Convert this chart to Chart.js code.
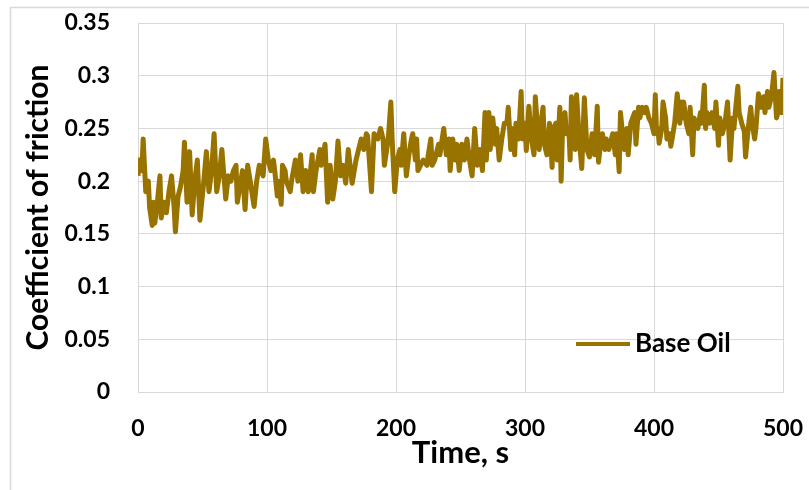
<!DOCTYPE html>
<html>
<head>
<meta charset="utf-8">
<script src="https://cdn.jsdelivr.net/npm/chart.js@4"></script>
<style>
  body { margin: 0; background: #fff; }
</style>
</head>
<body>
<canvas id="cofChart" width="809" height="490"></canvas>
<script>
// time (s) and coefficient of friction
var times = [0, 1, 3, 4, 6, 8, 9, 11, 12, 13, 15, 17, 18, 20, 22, 24, 26, 28, 29, 31,
	33, 35, 36, 38, 40, 42, 44, 46, 48, 51, 53, 55, 57, 59, 61, 63, 65, 68, 70, 72,
	74, 76, 77, 81, 83, 85, 87, 90, 92, 94, 97, 99, 101, 103, 105, 106, 108, 109, 111, 112,
	114, 115, 118, 119, 122, 124, 126, 128, 130, 132, 135, 136, 138, 141, 142, 145, 147, 149, 151, 153,
	155, 157, 159, 161, 163, 166, 169, 171, 173, 175, 177, 178, 181, 183, 186, 188, 190, 191, 194, 196,
	197, 199, 201, 203, 204, 206, 208, 210, 212, 213, 215, 216, 217, 219, 221, 224, 225, 227, 228, 230,
	233, 234, 237, 239, 241, 242, 244, 246, 247, 249, 251, 253, 255, 257, 259, 261, 263, 265, 267, 269,
	270, 272, 273, 275, 277, 278, 280, 282, 284, 286, 287, 289, 290, 292, 293, 295, 297, 298, 300, 301,
	303, 305, 307, 308, 310, 311, 313, 314, 315, 317, 319, 320, 321, 322, 324, 325, 327, 328, 329, 331,
	332, 334, 335, 336, 338, 339, 340, 342, 344, 346, 348, 350, 352, 354, 356, 357, 359, 360, 362, 363,
	365, 368, 370, 371, 373, 374, 376, 377, 379, 380, 382, 385, 386, 388, 389, 391, 393, 394, 396, 398,
	400, 401, 402, 403, 404, 406, 407, 409, 410, 412, 413, 414, 416, 418, 420, 421, 422, 423, 425, 427,
	428, 430, 431, 434, 436, 437, 439, 440, 441, 443, 445, 447, 448, 450, 451, 453, 455, 457, 459, 461,
	462, 463, 465, 466, 468, 470, 471, 473, 475, 476, 478, 479, 481, 483, 485, 486, 488, 489, 491, 493,
	495, 496, 497, 499, 500];

var baseOil = [0.205, 0.22, 0.21, 0.24, 0.19, 0.2, 0.175, 0.158, 0.18, 0.16, 0.18, 0.205, 0.165, 0.18, 0.17, 0.19, 0.205, 0.175, 0.152, 0.185,
	0.195, 0.21, 0.237, 0.18, 0.228, 0.168, 0.2, 0.22, 0.163, 0.2, 0.228, 0.19, 0.21, 0.245, 0.19, 0.205, 0.23, 0.183, 0.205, 0.2,
	0.21, 0.215, 0.18, 0.21, 0.173, 0.215, 0.2, 0.176, 0.2, 0.215, 0.205, 0.24, 0.22, 0.21, 0.22, 0.21, 0.186, 0.2, 0.178, 0.215,
	0.21, 0.2, 0.19, 0.2, 0.22, 0.2, 0.225, 0.19, 0.21, 0.19, 0.225, 0.19, 0.21, 0.23, 0.215, 0.235, 0.18, 0.215, 0.183, 0.2,
	0.238, 0.205, 0.215, 0.198, 0.23, 0.198, 0.22, 0.23, 0.24, 0.23, 0.245, 0.243, 0.19, 0.245, 0.24, 0.25, 0.24, 0.215, 0.24, 0.275,
	0.24, 0.19, 0.22, 0.23, 0.215, 0.245, 0.205, 0.225, 0.24, 0.245, 0.22, 0.24, 0.21, 0.215, 0.22, 0.215, 0.225, 0.24, 0.215, 0.22,
	0.235, 0.225, 0.25, 0.225, 0.24, 0.21, 0.24, 0.22, 0.235, 0.21, 0.235, 0.22, 0.24, 0.22, 0.205, 0.25, 0.215, 0.23, 0.21, 0.265,
	0.22, 0.265, 0.23, 0.26, 0.235, 0.25, 0.22, 0.24, 0.255, 0.255, 0.27, 0.23, 0.25, 0.225, 0.255, 0.24, 0.285, 0.24, 0.255, 0.229,
	0.271, 0.24, 0.225, 0.28, 0.245, 0.23, 0.261, 0.27, 0.235, 0.225, 0.255, 0.24, 0.213, 0.25, 0.255, 0.22, 0.27, 0.2, 0.245, 0.265,
	0.245, 0.25, 0.22, 0.28, 0.255, 0.23, 0.282, 0.24, 0.212, 0.279, 0.23, 0.223, 0.245, 0.225, 0.271, 0.218, 0.24, 0.245, 0.23, 0.24,
	0.23, 0.245, 0.225, 0.245, 0.209, 0.265, 0.24, 0.23, 0.25, 0.225, 0.255, 0.265, 0.235, 0.27, 0.26, 0.27, 0.265, 0.27, 0.26, 0.255,
	0.245, 0.282, 0.245, 0.25, 0.236, 0.25, 0.275, 0.26, 0.24, 0.245, 0.233, 0.24, 0.255, 0.283, 0.255, 0.275, 0.26, 0.275, 0.255, 0.245,
	0.27, 0.225, 0.26, 0.25, 0.265, 0.255, 0.291, 0.25, 0.265, 0.255, 0.265, 0.25, 0.275, 0.234, 0.26, 0.245, 0.255, 0.275, 0.22, 0.26,
	0.25, 0.265, 0.29, 0.265, 0.255, 0.247, 0.223, 0.25, 0.27, 0.255, 0.24, 0.25, 0.283, 0.27, 0.28, 0.265, 0.285, 0.27, 0.28, 0.303,
	0.26, 0.265, 0.285, 0.265, 0.298];

var xTicks = [0, 100, 200, 300, 400, 500];
var yTicks = [0, 0.05, 0.1, 0.15, 0.2, 0.25, 0.3, 0.35];

var lineColor = '#997300';
var gridColor = '#d9d9d9';
var fontFamily = 'Lato';

var points = times.map(function (t, i) { return { x: t, y: baseOil[i] }; });

// light frame round the whole chart + white background
var framePlugin = {
	id: 'frame',
	beforeDraw: function (chart) {
		var c = chart.ctx;
		c.save();
		c.fillStyle = '#fff';
		c.fillRect(0, 0, chart.width, chart.height);
		c.strokeStyle = gridColor;
		c.lineWidth = 1.5;
		c.strokeRect(10.5, 7.5, chart.width + 20, chart.height + 20);
		c.restore();
	}
};

// legend sits inside the plot, lower right
var insideLegend = {
	id: 'insideLegend',
	afterDatasetsDraw: function (chart) {
		var c = chart.ctx;
		var area = chart.chartArea;
		var ds = chart.data.datasets[0];
		var y = area.bottom - 48;
		var x0 = area.right - 207;
		c.save();
		c.strokeStyle = ds.borderColor;
		c.lineWidth = 4;
		c.beginPath();
		c.moveTo(x0, y);
		c.lineTo(x0 + 54, y);
		c.stroke();
		c.fillStyle = '#000';
		c.font = 'bold 26px ' + fontFamily;
		c.textBaseline = 'middle';
		c.textAlign = 'left';
		c.fillText(ds.label, x0 + 59, y);
		c.restore();
	}
};

var ctx = document.getElementById('cofChart').getContext('2d');

var cofChart = new Chart(ctx, {
	type: 'line',
	data: {
		datasets: [{
			label: 'Base Oil',
			data: points,
			borderColor: lineColor,
			backgroundColor: lineColor,
			borderWidth: 5,
			borderJoinStyle: 'round',
			pointRadius: 0,
			tension: 0
		}]
	},
	options: {
		responsive: false,
		animation: false,
		layout: {
			padding: { left: 0, right: 26, top: 23, bottom: 0 }
		},
		plugins: {
			legend: { display: false },
			tooltip: { enabled: false }
		},
		scales: {
			x: {
				type: 'linear',
				min: 0,
				max: 500,
				afterBuildTicks: function (scale) {
					scale.ticks = xTicks.map(function (v) { return { value: v }; });
				},
				afterFit: function (scale) {
					scale.height = 98;
					// labels fit in the layout padding, no extra side space
					scale.paddingLeft = 0;
					scale.paddingRight = 0;
				},
				grid: { color: gridColor, drawTicks: false },
				border: { color: gridColor },
				ticks: {
					color: '#000',
					padding: 23,
					maxRotation: 0,
					font: { family: fontFamily, size: 23, weight: 'bold' }
				},
				title: {
					display: true,
					text: 'Time, s',
					color: '#000',
					padding: { top: 0, bottom: 18 },
					font: { family: fontFamily, size: 31, weight: 'bold' }
				}
			},
			y: {
				min: 0,
				max: 0.35,
				afterBuildTicks: function (scale) {
					scale.ticks = yTicks.map(function (v) { return { value: v }; });
				},
				afterFit: function (scale) {
					scale.width = 138;
					scale.paddingTop = 0;
					scale.paddingBottom = 0;
				},
				grid: { color: gridColor, drawTicks: false },
				border: { color: gridColor },
				ticks: {
					color: '#000',
					padding: 28,
					font: { family: fontFamily, size: 23, weight: 'bold' },
					callback: function (v) { return String(+v.toFixed(2)); }
				},
				title: {
					display: true,
					text: 'Coefficient of friction',
					color: '#000',
					padding: { top: 20, bottom: 0 },
					font: { family: fontFamily, size: 30, weight: 'bold' }
				}
			}
		}
	},
	plugins: [framePlugin, insideLegend]
});
</script>
</body>
</html>
